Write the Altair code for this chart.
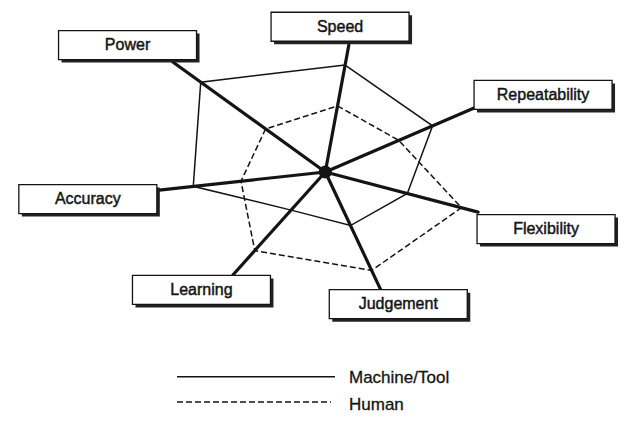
import math
import altair as alt
import pandas as pd

# ---- data -------------------------------------------------------------
axes = ["Speed", "Repeatability", "Flexibility", "Judgement", "Learning", "Accuracy", "Power"]
machine_tool = [6.8, 7.3, 5.3, 3.7, 3.2, 8.3, 9.6]
human = [4.2, 5.0, 8.8, 6.8, 6.6, 5.3, 4.6]
series_names = ["Machine/Tool", "Human"]

# ---- layout (drawing geometry of the hand-made figure) ----------------
axis_angle_deg = [79.5, 23.3, -14.7, -64.8, -131.9, -173.8, 144.2]
spoke_len_px = [129.0, 162.0, 158.0, 130.0, 138.0, 167.0, 188.0]
label_r_px = [146.0, 231.0, 228.0, 151.0, 171.0, 239.0, 235.0]
label_angle_deg = [84.2, 19.5, -14.5, -61.1, -136.4, -173.5, 147.3]
CX, CY = 325.3, 172.0
UNIT = 16.0
BOX_W, BOX_H = 138.0, 29.0
INK = "#141414"
FONT = "Liberation Sans"

W, H = 614, 410
xs = alt.Scale(domain=[8, 8 + W], nice=False, zero=False)
ys = alt.Scale(domain=[8, 8 + H], nice=False, zero=False, reverse=True)


def pos(r_px, ang):
    a = math.radians(ang)
    return CX + r_px * math.cos(a), CY - r_px * math.sin(a)


# spokes
spk = []
for name, ang, L in zip(axes, axis_angle_deg, spoke_len_px):
    ex, ey = pos(L, ang)
    spk.append({"axis": name, "x": CX, "y": CY, "x2": ex, "y2": ey})
spk = pd.DataFrame(spk)

# polygons
def poly(values, name):
    rows = []
    n = len(axes)
    for i in range(n + 1):
        k = i % n
        px, py = pos(values[k] * UNIT, axis_angle_deg[k])
        rows.append({"series": name, "axis": axes[k], "order": i, "x": px, "y": py})
    return pd.DataFrame(rows)

mach_df = poly(machine_tool, series_names[0])
hum_df = poly(human, series_names[1])

# label boxes
boxes = []
for name, lr, la in zip(axes, label_r_px, label_angle_deg):
    bx, by = pos(lr, la)
    boxes.append({"axis": name, "cx": bx, "cy": by,
                  "x": bx - BOX_W / 2, "x2": bx + BOX_W / 2,
                  "y": by - BOX_H / 2, "y2": by + BOX_H / 2,
                  "sx": bx - BOX_W / 2 + 3, "sx2": bx + BOX_W / 2 + 3,
                  "sy": by - BOX_H / 2 + 3, "sy2": by + BOX_H / 2 + 3})
boxes = pd.DataFrame(boxes)

center_df = pd.DataFrame({"x": [CX], "y": [CY]})

X = lambda f: alt.X(f"{f}:Q", scale=xs, axis=None)
Y = lambda f: alt.Y(f"{f}:Q", scale=ys, axis=None)

spokes = alt.Chart(spk).mark_rule(color=INK, strokeWidth=3.2, strokeCap="round").encode(
    x=X("x"), y=Y("y"), x2="x2:Q", y2="y2:Q")

mach_line = alt.Chart(mach_df).mark_line(color=INK, strokeWidth=1.5).encode(
    x=X("x"), y=Y("y"), order="order:Q")
hum_line = alt.Chart(hum_df).mark_line(color=INK, strokeWidth=1.5, strokeDash=[6, 3]).encode(
    x=X("x"), y=Y("y"), order="order:Q")

dot = alt.Chart(center_df).mark_circle(color=INK, size=170, opacity=1).encode(
    x=X("x"), y=Y("y"))

shadow = alt.Chart(boxes).mark_rect(color="#222222").encode(
    x=X("sx"), x2="sx2:Q", y=Y("sy"), y2="sy2:Q")
box = alt.Chart(boxes).mark_rect(fill="white", stroke=INK, strokeWidth=1.3).encode(
    x=X("x"), x2="x2:Q", y=Y("y"), y2="y2:Q")
labels = alt.Chart(boxes).mark_text(font=FONT, fontSize=16, color=INK, align="center",
                                     baseline="middle", stroke=INK, strokeWidth=0.45).encode(
    x=X("cx"), y=Y("cy"), text="axis:N")

# legend
leg = pd.DataFrame({"series": series_names,
                    "x": [177.0, 177.0], "x2": [335.0, 331.0],
                    "y": [376.7, 402.0], "tx": [349.0, 349.0], "ty": [378.0, 405.0]})
leg_solid = alt.Chart(leg.iloc[[0]]).mark_rule(color=INK, strokeWidth=1.5).encode(
    x=X("x"), x2="x2:Q", y=Y("y"))
leg_dash = alt.Chart(leg.iloc[[1]]).mark_rule(color=INK, strokeWidth=1.5, strokeDash=[6, 3]).encode(
    x=X("x"), x2="x2:Q", y=Y("y"))
leg_text = alt.Chart(leg).mark_text(font=FONT, fontSize=17, color=INK, align="left",
                                     baseline="middle", stroke=INK, strokeWidth=0.3).encode(
    x=X("tx"), y=Y("ty"), text="series:N")

chart = alt.layer(spokes, mach_line, hum_line, dot, shadow, box, labels,
                  leg_solid, leg_dash, leg_text).properties(
    width=W, height=H, padding=0, autosize="none", background="white"
).configure_view(stroke=None)

chart.save("out.html", embed_options={"renderer": "svg", "actions": False})
